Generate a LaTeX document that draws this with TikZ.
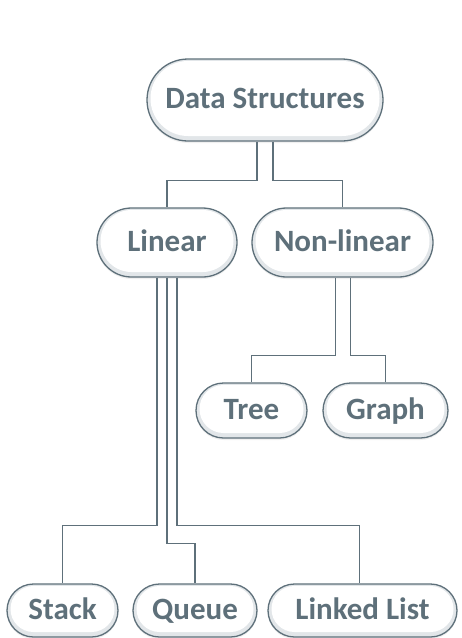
\documentclass[tikz,border=0pt]{standalone}
\usepackage{fontspec}
\setmainfont{Carlito}
\usetikzlibrary{shapes.misc,shadows}
\definecolor{dsslate}{RGB}{94,112,122}
\definecolor{dsband}{RGB}{226,230,233}
\newcommand{\pill}[5]{% name, position, width, height, label
  \node[pillbox,minimum width=#3,minimum height=#4] (#1) at (#2) {};
  \node[pillface,minimum width=#3-7,minimum height=#4-7] at ([yshift=1.5pt]#1.center) {#5};
}

\begin{document}
\begin{tikzpicture}[x=1pt,y=-1pt,font=\bfseries\fontsize{31}{36}\selectfont,
    pillbox/.style={rounded rectangle,draw=dsslate,line width=1.3pt,fill=dsband,inner sep=0pt,
      drop shadow={shadow xshift=0pt,shadow yshift=-2pt,opacity=.12}},
    pillface/.style={rounded rectangle,fill=white,text=dsslate,inner sep=0pt,
      text height=20pt,text depth=0pt},
    link/.style={draw=dsslate,line width=1.4pt}]
  \useasboundingbox (0,0) rectangle (462,638);
  \pill{ds}{265,100}{236}{82}{Data Structures}
  \pill{lin}{167,242.5}{140}{69}{Linear}
  \pill{nonlin}{342.5,242.5}{181}{69}{Non-linear}
  \pill{tree}{251.5,410.5}{111}{55}{Tree}
  \pill{graph}{385.5,410.5}{125}{55}{Graph}
  \pill{stack}{62.5,610.5}{111}{53}{Stack}
  \pill{queue}{195,610.5}{124}{53}{Queue}
  \pill{llist}{362.5,610.5}{189}{53}{Linked List}
  % connectors
  \draw[link] ([xshift=-8pt]ds.south) -- ++(0,39) -| (lin.north);
  \draw[link] ([xshift=8pt]ds.south) -- ++(0,39) -| (nonlin.north);
  \draw[link] ([xshift=-10pt]lin.south) -- ++(0,248) -| (stack.north);
  \draw[link] (lin.south) -- ++(0,266) -| (queue.north);
  \draw[link] ([xshift=10pt]lin.south) -- ++(0,248) -| ([xshift=-3pt]llist.north);
  \draw[link] ([xshift=-7pt]nonlin.south) -- ++(0,78) -| (tree.north);
  \draw[link] ([xshift=8pt]nonlin.south) -- ++(0,78) -| (graph.north);
\end{tikzpicture}
\end{document}
